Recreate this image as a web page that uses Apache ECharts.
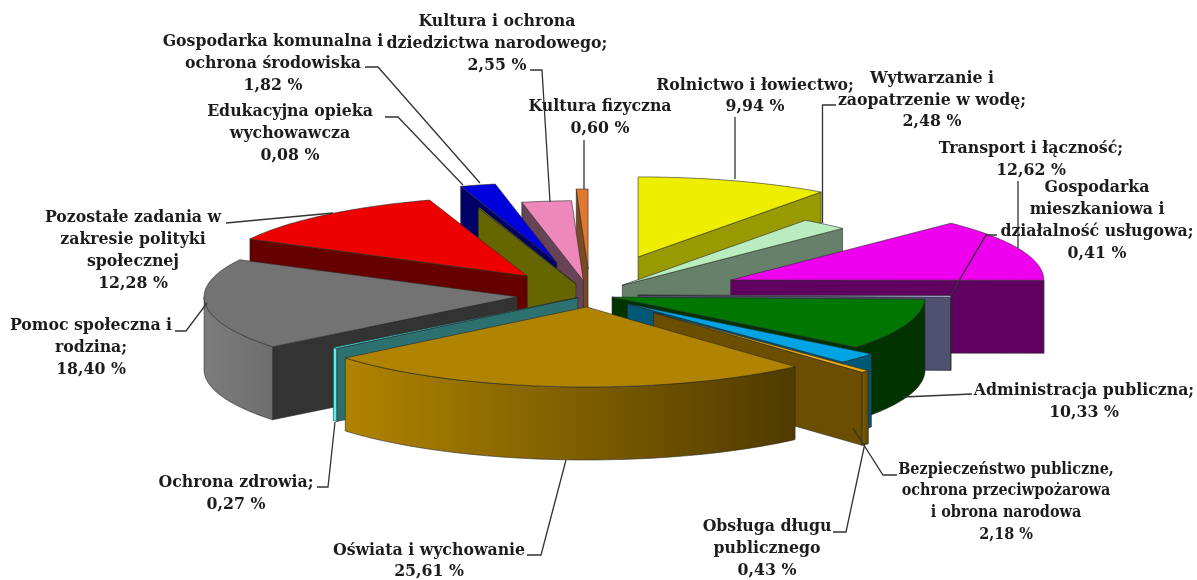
<!DOCTYPE html>
<html>
<head>
<meta charset="utf-8">
<title>Wydatki</title>
<style>
  html, body { margin: 0; padding: 0; background: #fff; }
  #chart { width: 1197px; height: 580px; }
</style>
<script src="https://cdn.jsdelivr.net/npm/echarts@6/dist/echarts.min.js"></script>
</head>
<body>
<div id="chart"></div>
<script>
// values in percent, clockwise from 12 o'clock
const categories = [
  'Rolnictwo i łowiectwo;',
  'Wytwarzanie i\nzaopatrzenie w wodę;',
  'Transport i łączność;',
  'Gospodarka\nmieszkaniowa i\ndziałalność usługowa;',
  'Administracja publiczna;',
  'Bezpieczeństwo publiczne,\nochrona przeciwpożarowa\ni obrona narodowa',
  'Obsługa długu\npublicznego',
  'Oświata i wychowanie',
  'Ochrona zdrowia;',
  'Pomoc społeczna i\nrodzina;',
  'Pozostałe zadania w\nzakresie polityki\nspołecznej',
  'Edukacyjna opieka\nwychowawcza',
  'Gospodarka komunalna i\nochrona środowiska',
  'Kultura i ochrona\ndziedzictwa narodowego;',
  'Kultura fizyczna'
]
const values = [9.94, 2.48, 12.62, 0.41, 10.33, 2.18, 0.43, 25.61, 0.27, 18.40, 12.28, 0.08, 1.82, 2.55, 0.60]

// explosion of each slice, as a part of the radius
const explode = [0.5, 0.16, 0.487, 0.153, 0.075, 0.163, 0.3, 0.15, 0.05, 0.234, 0.31, 0.145, 0.42, 0.18, 0.325]

const topColors = ['#eeee00', '#b9edbf', '#ee00ee', '#a6a6dc', '#007700', '#00a4e4', '#f2a900', '#b08400', '#40e0e0', '#737373', '#ee0000', '#8a8a00', '#0000dd', '#ee88bb', '#e07830']
const sideColors = ['#999900', '#66806a', '#600060', '#505070', '#003300', '#005878', '#6b4e00', '#6b4e00', '#2d7070', '#333333', '#660000', '#666600', '#000066', '#664455', '#7a4a20']
const wallColors = [
  ['#999900', '#999900'], ['#66806a', '#66806a'], ['#600060', '#600060'], ['#505070', '#505070'],
  ['#003300', '#003300'], ['#005878', '#005878'], ['#7d5c00', '#5f4500'], ['#b08400', '#4f3a00'],
  ['#55f0f0', '#55f0f0'], ['#7c7c7c', '#6e6e6e'], ['#660000', '#660000'], ['#666600', '#666600'],
  ['#000066', '#000066'], ['#664455', '#664455'], ['#7a4a20', '#7a4a20']
]

// pie geometry
const cx = 590, cy = 295, rx = 313, ry = 80, depth = 73

// label centres and leader lines, same order as categories
const labelPos = [
  [755, 96], [932, 100], [1031, 159.5], [1097, 220.5], [1084, 401.5], [1006, 502], [767, 548.5], [429, 561],
  [236, 493.5], [91, 347.5], [133, 250.5], [290, 133.5], [273, 63.5], [497, 43.5], [600, 117.5]
]
const labelSizes = [17.5, 17.5, 17.5, 17.5, 17.5, 16, 17.5, 17.5, 17.5, 17.5, 17.5, 17.5, 17.5, 17.5, 17.5]
const leaders = [
  [[735, 117], [735, 179]],
  [[836, 105], [822.5, 105], [822.5, 223]],
  [[1018, 181], [1018, 248]],
  [[997, 235], [986, 235], [950, 296]],
  [[972, 394], [903, 397]],
  [[897, 475], [883, 475], [853, 428]],
  [[833, 532], [846, 532], [865, 443]],
  [[527, 555], [541, 555], [566, 460]],
  [[317, 487], [328, 487], [335, 422]],
  [[175, 331], [186, 331], [207, 303]],
  [[226, 223], [333, 213]],
  [[385, 117], [398, 117], [463, 185]],
  [[365, 67], [378, 67], [480, 183]],
  [[530, 70], [542, 70], [550, 202]],
  [[584, 140], [584, 189]]
]

const TOTAL = values.reduce((a, b) => a + b, 0)
const lineColor = '#2a2a2a'
const labelFont = '"DejaVu Serif Condensed", "DejaVu Serif", serif'

// slice angles in radians, and apex moved out along the middle of the slice
let sum = 0
const slices = values.map((v, i) => {
  const a0 = sum / TOTAL * Math.PI * 2
  sum += v
  const a1 = sum / TOTAL * Math.PI * 2
  const mid = (a0 + a1) / 2
  return {
    i, a0, a1, mid,
    x: cx + explode[i] * rx * Math.sin(mid),
    y: cy - explode[i] * ry * Math.cos(mid)
  }
})
// back slices first, front slices over them
const paintOrder = slices.slice().sort((p, q) => Math.abs(q.mid - Math.PI) - Math.abs(p.mid - Math.PI))

function rim(s, a) {
  return [s.x + rx * Math.sin(a), s.y - ry * Math.cos(a)]
}
function arc(s, from, to) {
  const n = Math.max(2, Math.ceil((to - from) / 0.02))
  const pts = []
  for (let k = 0; k <= n; k++) pts.push(rim(s, from + (to - from) * k / n))
  return pts
}
function down(p) {
  return [p[0], p[1] + depth]
}
function poly(points, fill) {
  return { type: 'polygon', shape: { points }, style: { fill, stroke: lineColor, lineWidth: 0.6 } }
}
function radialFace(s, a, fill) {
  const o = rim(s, a), c = [s.x, s.y]
  return poly([c, o, down(o), down(c)], fill)
}

function renderSlice(params) {
  const s = paintOrder[params.dataIndex]
  const i = s.i
  const children = []
  if (Math.sin(s.a0) < 0) children.push(radialFace(s, s.a0, sideColors[i]))
  if (Math.sin(s.a1) > 0) children.push(radialFace(s, s.a1, sideColors[i]))
  // only the front half of the rim wall can be seen
  const from = Math.max(s.a0, Math.PI / 2), to = Math.min(s.a1, Math.PI * 1.5)
  if (to > from) {
    const edge = arc(s, from, to)
    const fill = new echarts.graphic.LinearGradient(0, 0, 1, 0, [
      { offset: 0, color: wallColors[i][0] },
      { offset: 1, color: wallColors[i][1] }
    ])
    children.push(poly(edge.concat(edge.map(down).reverse()), fill))
  }
  children.push(poly([[s.x, s.y]].concat(arc(s, s.a0, s.a1)), topColors[i]))
  return { type: 'group', children }
}

function percentText(v) {
  return v.toFixed(2).replace('.', ',') + ' %'
}

function renderLabel(params) {
  const i = params.dataIndex
  return {
    type: 'group',
    children: [
      { type: 'polyline', shape: { points: leaders[i] }, style: { fill: 'none', stroke: '#333', lineWidth: 1.3 } },
      {
        type: 'text',
        style: {
          x: labelPos[i][0], y: labelPos[i][1],
          text: categories[i] + '\n' + percentText(values[i]),
          fill: '#1c1c1c',
          font: 'bold ' + labelSizes[i] + 'px ' + labelFont,
          lineHeight: 21.7,
          align: 'center',
          verticalAlign: 'middle'
        }
      }
    ]
  }
}

const chart = echarts.init(document.getElementById('chart'))
chart.setOption({
  backgroundColor: '#fff',
  animation: false,
  series: [{
    type: 'custom',
    coordinateSystem: 'none',
    z: 2,
    renderItem: renderSlice,
    data: paintOrder.map(s => ({ name: categories[s.i], value: values[s.i] }))
  }, {
    type: 'custom',
    coordinateSystem: 'none',
    z: 3,
    silent: true,
    renderItem: renderLabel,
    data: values.map((v, i) => ({ name: categories[i], value: v }))
  }]
})
</script>
</body>
</html>
